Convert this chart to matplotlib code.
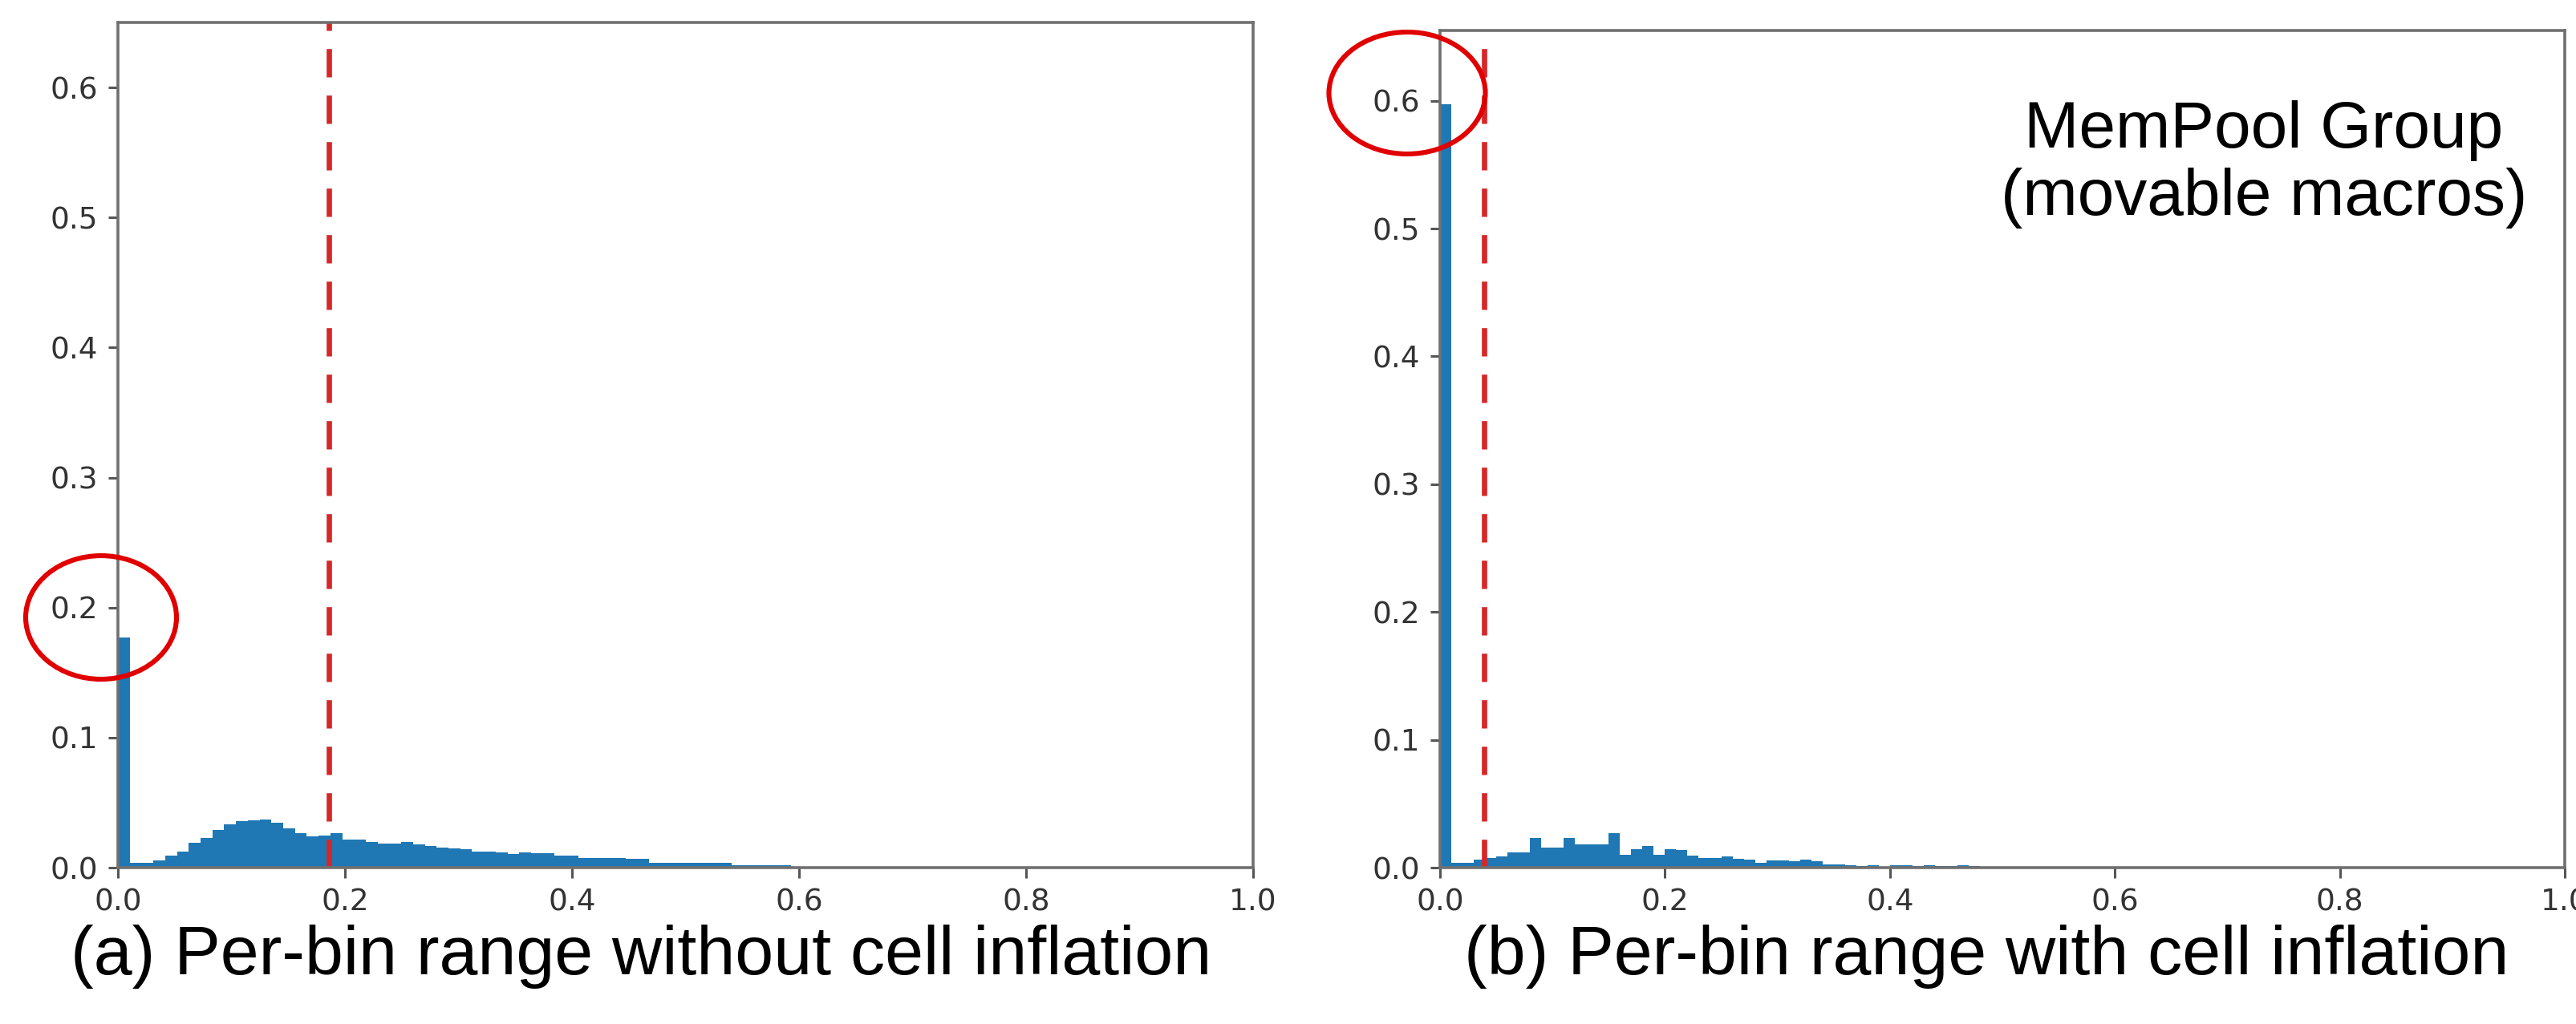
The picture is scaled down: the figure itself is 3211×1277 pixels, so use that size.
import numpy as np
import matplotlib
matplotlib.use("Agg")
import matplotlib.pyplot as plt
from matplotlib.patches import Ellipse

# --- data ---
# (a) per-bin range without cell inflation
left_bin_width = 0.0104
left_heights = [0.177, 0.004, 0.004, 0.0058, 0.0093, 0.0123, 0.019, 0.023, 0.029, 0.033,
                0.036, 0.0366, 0.037, 0.0346, 0.0305, 0.0267, 0.0243, 0.0247, 0.0263, 0.0216,
                0.0216, 0.020, 0.0185, 0.0185, 0.020, 0.018, 0.0165, 0.0154, 0.0148, 0.0144,
                0.0123, 0.0123, 0.0117, 0.0103, 0.012, 0.0113, 0.0113, 0.0093, 0.0093, 0.0072,
                0.0072, 0.0072, 0.0072, 0.0066, 0.0066, 0.0035, 0.0035, 0.0035, 0.0035, 0.0035,
                0.0035, 0.0035, 0.002, 0.002, 0.002, 0.002, 0.002]
left_threshold = 0.186

# (b) per-bin range with cell inflation
right_bin_width = 0.01
right_heights = [0.597, 0.0035, 0.004, 0.0063, 0.0077, 0.009, 0.012, 0.012, 0.023, 0.0156,
                 0.0156, 0.023, 0.018, 0.018, 0.018, 0.027, 0.010, 0.0146, 0.017, 0.010,
                 0.0146, 0.0135, 0.0094, 0.0077, 0.0073, 0.009, 0.0069, 0.0063, 0.0035, 0.0056,
                 0.0056, 0.0052, 0.0063, 0.0048, 0.0027, 0.0027, 0.002, 0.001, 0.002, 0.0005,
                 0.002, 0.002, 0.001, 0.002, 0.0015, 0.001, 0.002, 0.001]
right_threshold = 0.039

x_ticks = [0.0, 0.2, 0.4, 0.6, 0.8, 1.0]
y_ticks = [0.0, 0.1, 0.2, 0.3, 0.4, 0.5, 0.6]
captions = ["(a) Per-bin range without cell inflation",
            "(b) Per-bin range with cell inflation"]
note_text = "MemPool Group\n(movable macros)"

cap_font = "Liberation Sans"

W, H = 3212, 1277
fig = plt.figure(figsize=(W / 100, H / 100), dpi=100)

spine_col = "#707070"
bar_col = "#1f77b4"


def style_axes(ax, ytop):
    ax.set_xlim(0, 1.0)
    ax.set_ylim(0, ytop)
    ax.set_xticks(x_ticks)
    ax.set_yticks(y_ticks)
    ax.set_xticklabels([f"{v:.1f}" for v in x_ticks])
    ax.set_yticklabels([f"{v:.1f}" for v in y_ticks])
    ax.tick_params(labelsize=27, length=9, width=2.2, pad=9,
                   color="#555555", labelcolor="#333333")
    for s in ax.spines.values():
        s.set_linewidth(2.6)
        s.set_color(spine_col)


ax1 = fig.add_axes([147 / W, 0.1527, 1415 / W, 0.8254])
edges = np.arange(len(left_heights) + 1) * left_bin_width
ax1.stairs(left_heights, edges, fill=True, color=bar_col)
ln = ax1.axvline(left_threshold, color="#d62728", lw=4.8)
ln.set_dashes((5.3, 3.4))
style_axes(ax1, 0.65)

ax2 = fig.add_axes([1795 / W, 0.1527, 1402 / W, 0.8175])
edges = np.arange(len(right_heights) + 1) * right_bin_width
ax2.stairs(right_heights, edges, fill=True, color=bar_col)
ln = ax2.axvline(right_threshold, color="#d62728", lw=4.8)
ln.set_dashes((5.3, 3.4))
style_axes(ax2, 0.655)
ax2.text(2822 / W, 1 - 205 / H, note_text, transform=fig.transFigure,
         ha="center", va="center", fontsize=59, family=cap_font,
         linespacing=1.12, color="black")

# captions under each panel
fig.text(799 / W, 1 - 1193 / H, captions[0], ha="center", va="center",
         fontsize=62, family=cap_font, color="black")
fig.text(2476 / W, 1 - 1193 / H, captions[1], ha="center", va="center",
         fontsize=62, family=cap_font, color="black")

# red rings drawn over the figure
for cx, cy, w, h in [(126, 770, 188, 154), (1754, 116, 195, 152)]:
    e = Ellipse((cx / W, 1 - cy / H), w / W, h / H, transform=fig.transFigure,
                fill=False, edgecolor="#e00000", lw=4.4, zorder=10)
    fig.add_artist(e)

fig.savefig("out.png", dpi=100)
